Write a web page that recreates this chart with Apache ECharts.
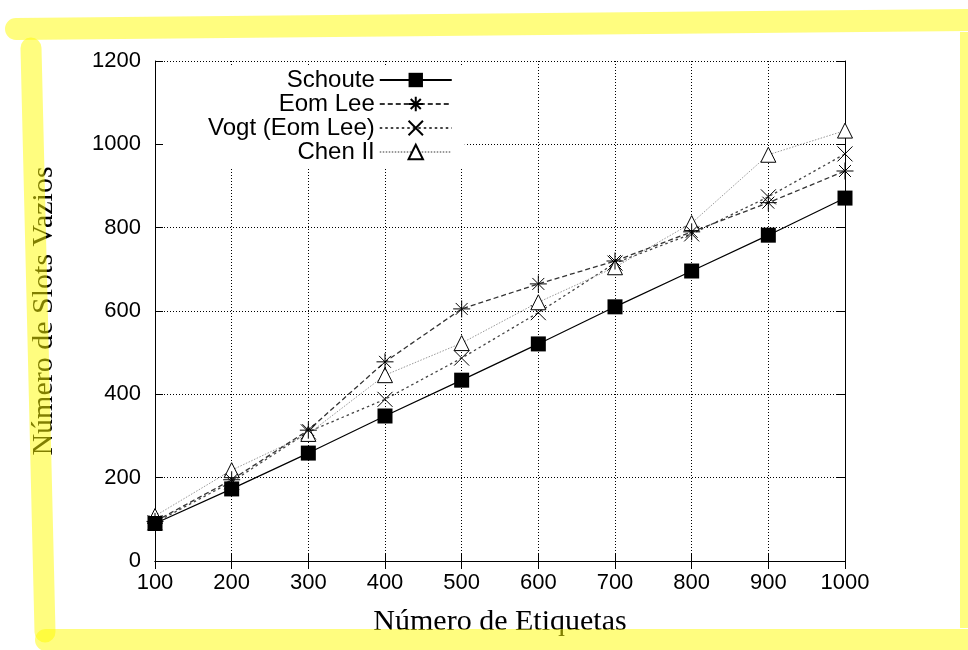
<!DOCTYPE html>
<html>
<head>
<meta charset="utf-8">
<script src="https://cdn.jsdelivr.net/npm/echarts@6/dist/echarts.min.js"></script>
<style>
  html, body { margin: 0; padding: 0; background: #fff; }
  #chart { width: 968px; height: 650px; }
</style>
</head>
<body>
<div id="chart"></div>
<script>
// data
const etiquetas = [100, 200, 300, 400, 500, 600, 700, 800, 900, 1000];
const schoute = [90, 173, 259, 348, 434, 521, 610, 696, 782, 871];
const eomLee = [95, 195, 314, 478, 605, 665, 720, 790, 860, 936];
const vogt = [92, 190, 310, 388, 487, 596, 715, 785, 874, 977];
const chenII = [108, 218, 305, 446, 523, 621, 705, 811, 975, 1033];
const seriesNames = ['Schoute', 'Eom Lee', 'Vogt (Eom Lee)', 'Chen II'];

const pairs = (ys) => etiquetas.map((x, i) => [x, ys[i]]);

const sans = 'Liberation Sans';
const serif = 'Liberation Serif';
const asterisk = 'path://M0,-10L0,10M-10,0L10,0M-7,-7L7,7M-7,7L7,-7';
const cross = 'path://M-10,-10L10,10M-10,10L10,-10';
const hl = 'rgba(255,252,0,0.5)'; // marker pen on top

const chart = echarts.init(document.getElementById('chart'));

const tickAxis = (pos, min, max, interval) => ({
	type: 'value',
	position: pos,
	min: min,
	max: max,
	interval: interval,
	axisLine: { show: true, lineStyle: { color: '#000', width: 1 } },
	axisTick: { show: true, inside: true, length: 8, lineStyle: { color: '#000' } },
	axisLabel: { show: false },
	splitLine: { show: false },
});

chart.setOption({
	backgroundColor: '#fff',
	animation: false,
	grid: { left: 155, right: 123, top: 61, bottom: 89 },
	legend: {
		data: seriesNames,
		orient: 'vertical',
		align: 'right',
		left: 164,
		top: 66,
		itemWidth: 72,
		itemHeight: 18,
		itemGap: 0,
		backgroundColor: '#fff',
		padding: [2, 12, 4, 44],
		textStyle: { fontFamily: sans, fontSize: 24, color: '#000', lineHeight: 23.5 },
	},
	xAxis: [
		{
			type: 'value',
			min: 100,
			max: 1000,
			interval: 100,
			name: 'Número de Etiquetas',
			nameLocation: 'middle',
			nameGap: 46,
			nameTextStyle: { fontFamily: serif, fontSize: 30, color: '#000' },
			axisLine: { show: true, lineStyle: { color: '#000', width: 1 } },
			axisTick: { show: true, inside: true, length: 8, lineStyle: { color: '#000' } },
			axisLabel: { fontFamily: sans, fontSize: 22, color: '#000', margin: 11, formatter: (v) => String(v) },
			splitLine: { show: true, lineStyle: { color: '#000', type: [1, 2], width: 1 } },
		},
		tickAxis('top', 100, 1000, 100),
	],
	yAxis: [
		{
			type: 'value',
			min: 0,
			max: 1200,
			interval: 200,
			name: 'Número de Slots Vazios',
			nameLocation: 'middle',
			nameGap: 96,
			nameTextStyle: { fontFamily: serif, fontSize: 30, color: '#000' },
			axisLine: { show: true, lineStyle: { color: '#000', width: 1 } },
			axisTick: { show: true, inside: true, length: 8, lineStyle: { color: '#000' } },
			axisLabel: { fontFamily: sans, fontSize: 22, color: '#000', margin: 14, formatter: (v) => String(v) },
			splitLine: { show: true, lineStyle: { color: '#000', type: [1, 2], width: 1 } },
		},
		tickAxis('right', 0, 1200, 200),
	],
	series: [
		{
			name: seriesNames[0],
			type: 'line',
			data: pairs(schoute),
			symbol: 'rect',
			symbolSize: 15,
			lineStyle: { color: '#000', width: 1.2 },
			itemStyle: { color: '#000' },
			z: 5,
		},
		{
			name: seriesNames[1],
			type: 'line',
			data: pairs(eomLee),
			symbol: asterisk,
			symbolSize: 17,
			lineStyle: { color: '#333', width: 1.3, type: [5, 3] },
			itemStyle: { color: '#000', borderColor: '#000', borderWidth: 1 },
			z: 4,
		},
		{
			name: seriesNames[2],
			type: 'line',
			data: pairs(vogt),
			symbol: cross,
			symbolSize: 15,
			lineStyle: { color: '#444', width: 1.3, type: [2.5, 3] },
			itemStyle: { color: '#000', borderColor: '#000', borderWidth: 1 },
			z: 3,
		},
		{
			name: seriesNames[3],
			type: 'line',
			data: pairs(chenII),
			symbol: 'triangle',
			symbolSize: 15,
			lineStyle: { color: '#999', width: 1, type: [1.5, 1.5] },
			itemStyle: { color: '#fff', borderColor: '#000', borderWidth: 1 },
			z: 3,
		},
	],
	graphic: [
		{ type: 'polyline', z: 100, shape: { points: [[16, 29], [980, 20]] }, style: { stroke: hl, lineWidth: 22, lineCap: 'round', fill: null } },
		{ type: 'polyline', z: 100, shape: { points: [[31, 48], [45, 632]] }, style: { stroke: hl, lineWidth: 21, lineCap: 'round', fill: null } },
		{ type: 'polyline', z: 100, shape: { points: [[46, 640], [980, 640]] }, style: { stroke: hl, lineWidth: 22, lineCap: 'round', fill: null } },
		{ type: 'polyline', z: 100, shape: { points: [[966, 32], [966, 628]] }, style: { stroke: hl, lineWidth: 12, fill: null } },
	],
});
</script>
</body>
</html>
